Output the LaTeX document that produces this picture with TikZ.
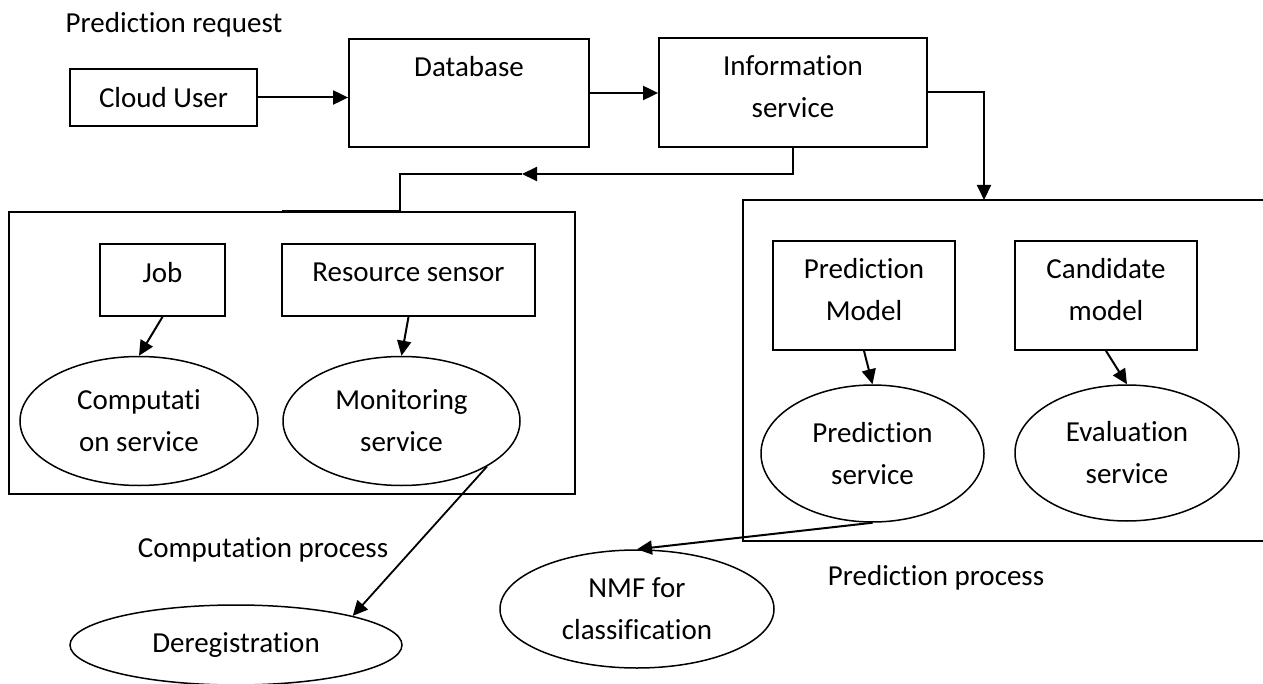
\documentclass[tikz,border=0pt]{standalone}
\usepackage{fontspec}
\setmainfont{Carlito}[Ligatures={NoCommon}]
\usetikzlibrary{arrows.meta,shapes.geometric,calc}
\newcommand{\upby}[1]{\rule[-#1]{0pt}{1pt}}
\begin{document}
\begin{tikzpicture}[x=1pt,y=-1pt,
  every node/.style={font=\fontsize{29}{42}\selectfont},
  box/.style={draw, line width=1.8pt, rectangle, inner sep=0pt, align=center},
  oval/.style={draw, line width=1.5pt, ellipse, inner sep=0pt, align=center},
  conn/.style={line width=2pt},
  arr/.style={line width=2pt, -{Triangle[length=15pt,width=14pt]}},
  lbl/.style={inner sep=0pt}]
\useasboundingbox (0,0) rectangle (1263,684);

% top row
\node[lbl] (preq) at (174,25) {Prediction request};
\node[box, minimum width=187pt, minimum height=57pt] (cu) at (163.5,97.5) {Cloud User};
\node[box, minimum width=240pt, minimum height=108pt] (db) at (469,93) {};
\node[lbl] (dbt) at (469,67) {Database};
\node[box, minimum width=268pt, minimum height=109pt] (info) at (793,92.5) {Information\\service\upby{12pt}};

% left group
\node[box, line width=1.5pt, minimum width=566pt, minimum height=282pt] (lbox) at (292,353) {};
\node[box, minimum width=125pt, minimum height=72pt] (job) at (162.5,280) {Job\upby{16pt}};
\node[box, minimum width=253pt, minimum height=72pt] (rs) at (408.5,280) {Resource sensor\upby{16pt}};
\node[oval, minimum width=238pt, minimum height=129pt] (comp) at (139,421) {Computati\\on service};
\node[oval, minimum width=237pt, minimum height=129pt] (mon) at (401.5,421) {Monitoring\\service};

% right group
\draw[line width=1.8pt] (1263,200) -- (743,200) -- (743,541) -- (1263,541);
\coordinate (rtop) at (984,200);
\node[box, minimum width=182pt, minimum height=109pt] (pm) at (864,295.5) {Prediction\\Model\upby{12pt}};
\node[box, minimum width=182pt, minimum height=109pt] (cm) at (1106,295.5) {Candidate\\model\upby{12pt}};
\node[oval, minimum width=223pt, minimum height=137pt] (ps) at (872.5,453.5) {Prediction\\service};
\node[oval, minimum width=224pt, minimum height=136pt] (es) at (1127,453) {Evaluation\\service};

% bottom
\node[oval, minimum width=274pt, minimum height=118pt] (nmf) at (637,609) {NMF for\\classification};
\node[oval, minimum width=332pt, minimum height=80pt] (dereg) at (236,645) {Deregistration};
\node[lbl] (cproc) at (263,550) {Computation process};
\node[lbl] (pproc) at (936,578) {Prediction process};

% connectors
\draw[arr] (cu.east) -- (cu.east -| db.west);
\draw[arr] (db.east) -- (db.east -| info.west);
\draw[arr] (info.east) -| (rtop);
\coordinate (lmid) at (522,174);
\draw[arr] (info.south) |- (lmid);
\draw[conn] (lmid) -| ($(lbox.north west)+(392,0)$) -- ($(lbox.north west)+(274,0)$);
\draw[arr] (job.south) -- (comp.north);
\draw[arr] (rs.south) -- (mon.north);
\draw[arr] (pm.south) -- (ps.north);
\draw[arr] (cm.south) -- (es.north);
\draw[arr] (ps.south) -- (nmf.north);
\draw[arr, line width=1.8pt] (mon.-28) -- (dereg.14);
\end{tikzpicture}
\end{document}
